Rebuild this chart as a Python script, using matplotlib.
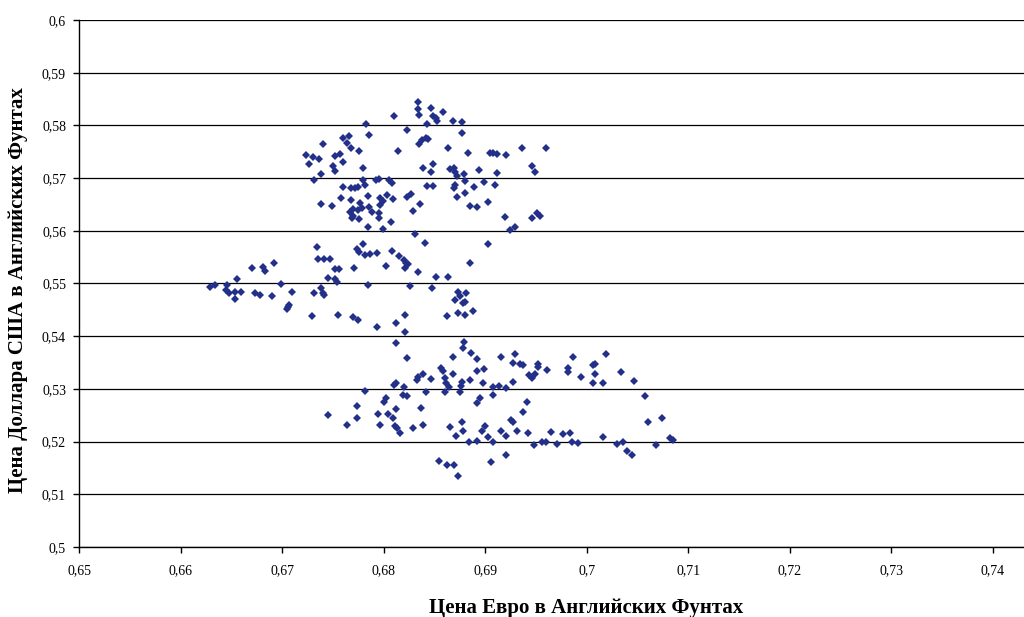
import matplotlib
matplotlib.use("Agg")
import matplotlib.pyplot as plt
from matplotlib.ticker import MultipleLocator, FuncFormatter

# Цена Евро в Английских Фунтах (x) и Цена Доллара США в Английских Фунтах (y)
eur_gbp = [
    0.6834, 0.6834, 0.6835, 0.6847, 0.6858, 0.6849, 0.6852, 0.6853, 0.6843, 0.6868,
    0.6877, 0.6877, 0.6823, 0.6810, 0.6783, 0.6786, 0.6760, 0.6766, 0.6764, 0.6740,
    0.6768, 0.6776, 0.6838, 0.6842, 0.6844, 0.6835, 0.6863, 0.6814, 0.6723, 0.6730,
    0.6752, 0.6757, 0.6736, 0.6760, 0.6726, 0.6750, 0.6752, 0.6780, 0.6849, 0.6839,
    0.6847, 0.6738, 0.6731, 0.6780, 0.6782, 0.6792, 0.6795, 0.6805, 0.6808, 0.6843,
    0.6849, 0.6760, 0.6768, 0.6772, 0.6775, 0.6758, 0.6768, 0.6785, 0.6796, 0.6799,
    0.6803, 0.6809, 0.6823, 0.6827, 0.6738, 0.6749, 0.6777, 0.6770, 0.6775, 0.6779,
    0.6767, 0.6786, 0.6788, 0.6796, 0.6836, 0.6770, 0.6769, 0.6795, 0.6795, 0.6829,
    0.6776, 0.6807, 0.6785, 0.6799, 0.6831,
    0.6883, 0.6905, 0.6908, 0.6912, 0.6921, 0.6936, 0.6960, 0.6865, 0.6869, 0.6870,
    0.6879, 0.6894, 0.6912, 0.6946, 0.6949, 0.6872, 0.6880, 0.6870, 0.6869, 0.6899,
    0.6910, 0.6889, 0.6880, 0.6872, 0.6885, 0.6892, 0.6903, 0.6920, 0.6946, 0.6951,
    0.6954, 0.6929, 0.6924,
    0.6629, 0.6634, 0.6645, 0.6646, 0.6655, 0.6648, 0.6653, 0.6659, 0.6653, 0.6670,
    0.6681, 0.6683, 0.6692, 0.6673, 0.6678, 0.6690, 0.6699, 0.6710, 0.6706, 0.6707,
    0.6705, 0.6734, 0.6735, 0.6741, 0.6747, 0.6752, 0.6756, 0.6745, 0.6752, 0.6754,
    0.6731, 0.6738, 0.6740, 0.6741, 0.6729, 0.6755, 0.6770, 0.6771,
    0.6841, 0.6780, 0.6774, 0.6776, 0.6782, 0.6787, 0.6793, 0.6808, 0.6815, 0.6820,
    0.6822, 0.6824, 0.6821, 0.6802, 0.6834, 0.6852, 0.6863, 0.6885, 0.6903, 0.6785,
    0.6826, 0.6848, 0.6873, 0.6881, 0.6875, 0.6870, 0.6878, 0.6880, 0.6873, 0.6880,
    0.6888, 0.6862, 0.6775, 0.6821, 0.6812, 0.6793, 0.6821,
    0.6812, 0.6823, 0.6879, 0.6878, 0.6868, 0.6886, 0.6892, 0.6856, 0.6858, 0.6868,
    0.6892, 0.6839, 0.6834, 0.6833, 0.6847, 0.6860, 0.6861, 0.6885, 0.6877, 0.6876,
    0.6812, 0.6810, 0.6864, 0.6820, 0.6782, 0.6819, 0.6823, 0.6842, 0.6860, 0.6875,
    0.6802, 0.6800, 0.6892, 0.6774, 0.6812, 0.6837, 0.6745, 0.6774, 0.6794, 0.6804,
    0.6809, 0.6764, 0.6796, 0.6811, 0.6813, 0.6829, 0.6839, 0.6816, 0.6865, 0.6877,
    0.6878, 0.6871, 0.6884, 0.6892, 0.6855, 0.6862, 0.6869, 0.6873,
    0.6899, 0.6916, 0.6929, 0.6927, 0.6934, 0.6937, 0.6943, 0.6946, 0.6949, 0.6952,
    0.6952, 0.6961, 0.6898, 0.6908, 0.6914, 0.6921, 0.6927, 0.6908, 0.6895, 0.6941,
    0.6937, 0.6925, 0.6927, 0.6900, 0.6897, 0.6916, 0.6921, 0.6931, 0.6942, 0.6965,
    0.6977, 0.6984, 0.6903, 0.6908, 0.6948, 0.6956, 0.6960, 0.6971, 0.6986, 0.6991,
    0.6921, 0.6906, 0.6982, 0.6982, 0.6987, 0.6994, 0.7006, 0.7008, 0.7006,
    0.7019, 0.7016, 0.7034, 0.7047, 0.7058, 0.7060, 0.7074, 0.7082, 0.7085, 0.7068,
    0.7045, 0.7040, 0.7036, 0.7030, 0.7016, 0.7008,
]
usd_gbp = [
    0.5844, 0.5831, 0.5820, 0.5833, 0.5825, 0.5818, 0.5814, 0.5808, 0.5803, 0.5808,
    0.5806, 0.5786, 0.5791, 0.5818, 0.5803, 0.5782, 0.5776, 0.5780, 0.5767, 0.5765,
    0.5757, 0.5751, 0.5772, 0.5776, 0.5774, 0.5765, 0.5757, 0.5751, 0.5744, 0.5740,
    0.5742, 0.5746, 0.5736, 0.5731, 0.5727, 0.5723, 0.5713, 0.5719, 0.5727, 0.5719,
    0.5712, 0.5708, 0.5696, 0.5696, 0.5687, 0.5696, 0.5698, 0.5696, 0.5691, 0.5685,
    0.5685, 0.5683, 0.5681, 0.5681, 0.5683, 0.5662, 0.5658, 0.5666, 0.5662, 0.5657,
    0.5668, 0.5660, 0.5664, 0.5670, 0.5651, 0.5647, 0.5653, 0.5641, 0.5639, 0.5643,
    0.5636, 0.5645, 0.5636, 0.5649, 0.5651, 0.5628, 0.5624, 0.5634, 0.5624, 0.5638,
    0.5622, 0.5617, 0.5607, 0.5603, 0.5594,
    0.5748, 0.5748, 0.5748, 0.5746, 0.5744, 0.5757, 0.5757, 0.5717, 0.5719, 0.5712,
    0.5708, 0.5715, 0.5710, 0.5723, 0.5712, 0.5704, 0.5694, 0.5687, 0.5681, 0.5693,
    0.5687, 0.5683, 0.5672, 0.5664, 0.5647, 0.5645, 0.5655, 0.5626, 0.5624, 0.5634,
    0.5628, 0.5607, 0.5602,
    0.5493, 0.5497, 0.5488, 0.5497, 0.5509, 0.5482, 0.5484, 0.5484, 0.5471, 0.5529,
    0.5531, 0.5524, 0.5539, 0.5482, 0.5478, 0.5476, 0.5499, 0.5484, 0.5455, 0.5459,
    0.5452, 0.5569, 0.5547, 0.5547, 0.5547, 0.5528, 0.5528, 0.5510, 0.5509, 0.5503,
    0.5482, 0.5491, 0.5482, 0.5478, 0.5438, 0.5440, 0.5436, 0.5529,
    0.5577, 0.5575, 0.5565, 0.5560, 0.5554, 0.5556, 0.5558, 0.5562, 0.5552, 0.5545,
    0.5539, 0.5537, 0.5529, 0.5533, 0.5522, 0.5512, 0.5512, 0.5539, 0.5575, 0.5497,
    0.5495, 0.5491, 0.5484, 0.5482, 0.5476, 0.5469, 0.5463, 0.5465, 0.5444, 0.5440,
    0.5448, 0.5438, 0.5430, 0.5440, 0.5425, 0.5417, 0.5408,
    0.5387, 0.5359, 0.5389, 0.5378, 0.5361, 0.5368, 0.5357, 0.5340, 0.5334, 0.5328,
    0.5334, 0.5328, 0.5323, 0.5317, 0.5319, 0.5321, 0.5311, 0.5317, 0.5313, 0.5306,
    0.5311, 0.5307, 0.5304, 0.5304, 0.5296, 0.5288, 0.5287, 0.5294, 0.5294, 0.5294,
    0.5283, 0.5275, 0.5273, 0.5268, 0.5262, 0.5264, 0.5251, 0.5245, 0.5252, 0.5252,
    0.5245, 0.5232, 0.5232, 0.5230, 0.5226, 0.5226, 0.5232, 0.5216, 0.5228, 0.5237,
    0.5220, 0.5211, 0.5199, 0.5201, 0.5163, 0.5156, 0.5156, 0.5135,
    0.5338, 0.5361, 0.5366, 0.5349, 0.5347, 0.5345, 0.5326, 0.5321, 0.5328, 0.5347,
    0.5342, 0.5336, 0.5311, 0.5304, 0.5306, 0.5302, 0.5313, 0.5288, 0.5283, 0.5275,
    0.5256, 0.5241, 0.5237, 0.5230, 0.5220, 0.5220, 0.5211, 0.5220, 0.5216, 0.5218,
    0.5214, 0.5216, 0.5209, 0.5199, 0.5193, 0.5199, 0.5199, 0.5195, 0.5199, 0.5197,
    0.5175, 0.5161, 0.5340, 0.5332, 0.5361, 0.5323, 0.5345, 0.5328, 0.5311,
    0.5366, 0.5311, 0.5332, 0.5315, 0.5287, 0.5237, 0.5245, 0.5207, 0.5203, 0.5194,
    0.5175, 0.5182, 0.5199, 0.5196, 0.5209, 0.5347,
]

x_title = "Цена Евро в Английских Фунтах"
y_title = "Цена Доллара США в Английских Фунтах"

plt.rcParams['font.family'] = ['Liberation Serif', 'DejaVu Serif']

fig = plt.figure(figsize=(10.24, 6.17), dpi=100)
ax = fig.add_axes([0.0774, 0.1135, 0.9226, 0.8541])

ax.plot(eur_gbp, usd_gbp, linestyle='none', marker='D', markersize=4.4,
        color='#22308a', markeredgewidth=0)

ax.set_xlim(0.65, 0.7431)
ax.set_ylim(0.5, 0.6)
ax.xaxis.set_major_locator(MultipleLocator(0.01))
ax.yaxis.set_major_locator(MultipleLocator(0.01))
comma = FuncFormatter(lambda v, p: f"{round(v, 2):g}".replace('.', ','))
ax.xaxis.set_major_formatter(comma)
ax.yaxis.set_major_formatter(comma)
ax.tick_params(direction='out', length=4.5, width=1, colors='black',
               labelsize=10, pad=5)
ax.tick_params(axis='x', pad=8)

ax.yaxis.grid(True, color='black', linewidth=0.9)
ax.set_axisbelow(True)
for side in ['top', 'right']:
    ax.spines[side].set_visible(False)
for side in ['left', 'bottom']:
    ax.spines[side].set_linewidth(1)

fig.text(586 / 1024, 1 - 608 / 617, x_title, ha='center', va='center',
         fontsize=15, fontweight='bold')
fig.text(18 / 1024, 1 - 290 / 617, y_title, ha='center', va='center',
         rotation=90, fontsize=15, fontweight='bold')

fig.savefig('out.png', dpi=100)
